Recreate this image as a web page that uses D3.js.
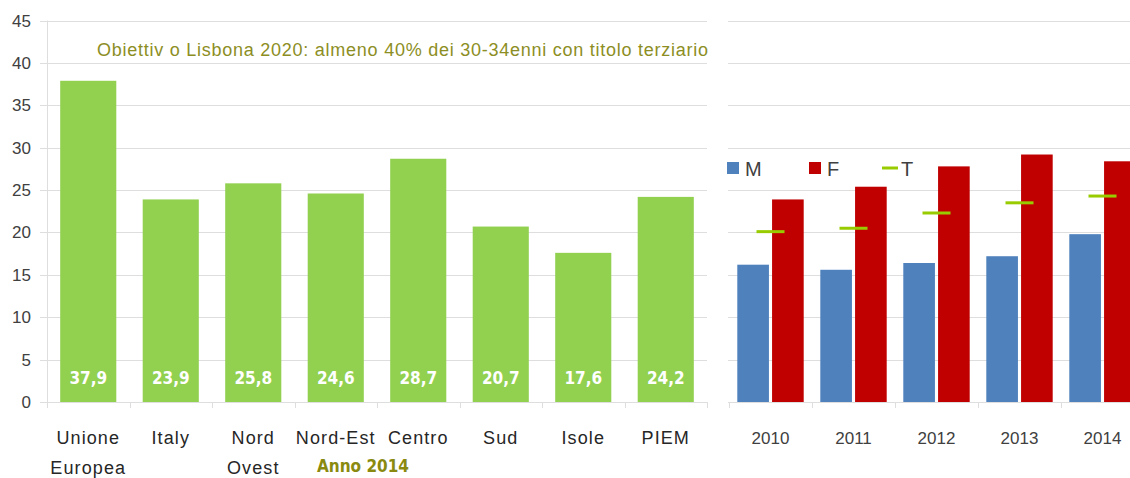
<!DOCTYPE html>
<html>
<head>
<meta charset="utf-8">
<script src="https://cdn.jsdelivr.net/npm/d3@7"></script>
<style>
    body { margin: 0; background: #fff; }
    svg { display: block; font-family: "Liberation Sans", Arial, sans-serif; }
</style>
</head>
<body>
<div id="chart"></div>
<script>
var width = 1130
var height = 478

// left panel: anno 2014
var regions = ['Unione Europea', 'Italy', 'Nord Ovest', 'Nord-Est', 'Centro', 'Sud', 'Isole', 'PIEM']
var regionLabels = [['Unione', 'Europea'], ['Italy'], ['Nord', 'Ovest'], ['Nord-Est'], ['Centro'], ['Sud'], ['Isole'], ['PIEM']]
var regionValues = [37.9, 23.9, 25.8, 24.6, 28.7, 20.7, 17.6, 24.2]

// right panel: PIEM by sex
var years = ['2010', '2011', '2012', '2013', '2014']
var maleValues = [16.2, 15.6, 16.4, 17.2, 19.8]
var femaleValues = [23.9, 25.4, 27.8, 29.2, 28.4]
var totalValues = [20.1, 20.5, 22.3, 23.5, 24.3]

var yTicks = [0, 5, 10, 15, 20, 25, 30, 35, 40, 45]

var svg = d3.select('#chart').append('svg')
    .attr('width', width)
    .attr('height', height)

var y = d3.scaleLinear().domain([0, 45]).range([402, 20.6])

var xLeft = d3.scaleBand().domain(regions).range([47, 707])
    .paddingInner(0.32).paddingOuter(0.16)

var xRight = d3.scaleBand().domain(years).range([729, 1144])
    .paddingInner(0.2).paddingOuter(0.1)

var xSex = d3.scaleBand().domain(['M', 'F']).range([0, xRight.bandwidth()])
    .paddingInner(0.09)

// gridlines
var grid = svg.append('g').attr('stroke', '#dedede').attr('stroke-width', 1)
grid.selectAll('.gl').data(yTicks).enter().append('line')
    .attr('x1', 40).attr('x2', 707)
    .attr('y1', function(d) { return Math.round(y(d)) + 0.5 })
    .attr('y2', function(d) { return Math.round(y(d)) + 0.5 })
grid.selectAll('.gr').data(yTicks).enter().append('line')
    .attr('x1', 728).attr('x2', width)
    .attr('y1', function(d) { return Math.round(y(d)) + 0.5 })
    .attr('y2', function(d) { return Math.round(y(d)) + 0.5 })
grid.append('line')
    .attr('x1', 47.5).attr('x2', 47.5)
    .attr('y1', y(45)).attr('y2', 408)

// category tick marks on baseline
var leftEdges = d3.range(regions.length + 1).map(function(i) { return 47 + i * xLeft.step() })
grid.selectAll('.tl').data(leftEdges).enter().append('line')
    .attr('x1', function(d) { return Math.round(d) + 0.5 })
    .attr('x2', function(d) { return Math.round(d) + 0.5 })
    .attr('y1', 402).attr('y2', 408)
var rightEdges = d3.range(years.length).map(function(i) { return 729 + i * xRight.step() })
grid.selectAll('.tr').data(rightEdges).enter().append('line')
    .attr('x1', function(d) { return Math.round(d) + 0.5 })
    .attr('x2', function(d) { return Math.round(d) + 0.5 })
    .attr('y1', 402).attr('y2', 408)

// y labels
svg.append('g').selectAll('text').data(yTicks).enter().append('text')
    .attr('x', 31)
    .attr('y', function(d) { return y(d) })
    .attr('dy', '0.35em')
    .attr('text-anchor', 'end')
    .style('font-size', '17px')
    .style('fill', '#404040')
    .text(function(d) { return d })

// left bars
svg.append('g').selectAll('rect').data(regionValues).enter().append('rect')
    .attr('x', function(d, i) { return xLeft(regions[i]) })
    .attr('y', function(d) { return y(d) })
    .attr('width', xLeft.bandwidth())
    .attr('height', function(d) { return y(0) - y(d) })
    .attr('fill', '#92D050')

svg.append('g').selectAll('text').data(regionValues).enter().append('text')
    .attr('x', function(d, i) { return xLeft(regions[i]) + xLeft.bandwidth() / 2 })
    .attr('y', 384)
    .attr('text-anchor', 'middle')
    .style('font-family', '"DejaVu Sans Condensed", "Liberation Sans Narrow", sans-serif')
    .style('font-weight', 'bold')
    .style('font-size', '17px')
    .style('fill', '#fff')
    .text(function(d) { return d3.format('.1f')(d).replace('.', ',') })

// left category labels
var catG = svg.append('g').selectAll('text').data(regionLabels).enter().append('text')
    .attr('text-anchor', 'middle')
    .style('font-size', '18px')
    .style('letter-spacing', '1.1px')
    .style('fill', '#262626')
catG.selectAll('tspan').data(function(d, i) {
        return d.map(function(s) { return { s: s, cat: regions[i] } }) })
    .enter().append('tspan')
    .attr('x', function(d) { return xLeft(d.cat) + xLeft.bandwidth() / 2 })
    .attr('y', function(d, j) { return 444 + j * 30 })
    .text(function(d) { return d.s })

svg.append('text')
    .attr('x', 363).attr('y', 472)
    .attr('text-anchor', 'middle')
    .style('font-family', '"DejaVu Sans Condensed", "Liberation Sans Narrow", sans-serif')
    .style('font-weight', 'bold')
    .style('font-size', '17px')
    .style('fill', '#8a8a10')
    .text('Anno 2014')

svg.append('text')
    .attr('x', 97).attr('y', 56)
    .attr('textLength', 611)
    .attr('lengthAdjust', 'spacing')
    .style('font-size', '18px')
    .style('fill', '#8c8e24')
    .text('Obiettiv o Lisbona 2020: almeno 40% dei 30-34enni con titolo terziario')

// right bars
var groups = svg.append('g').selectAll('g').data(years).enter().append('g')
    .attr('transform', function(d) { return 'translate(' + xRight(d) + ',0)' })

groups.append('rect')
    .attr('x', xSex('M'))
    .attr('y', function(d, i) { return y(maleValues[i]) })
    .attr('width', xSex.bandwidth())
    .attr('height', function(d, i) { return y(0) - y(maleValues[i]) })
    .attr('fill', '#4F81BD')

groups.append('rect')
    .attr('x', xSex('F'))
    .attr('y', function(d, i) { return y(femaleValues[i]) })
    .attr('width', xSex.bandwidth())
    .attr('height', function(d, i) { return y(0) - y(femaleValues[i]) })
    .attr('fill', '#C00000')

groups.append('line')
    .attr('x1', xRight.bandwidth() / 2 - 14)
    .attr('x2', xRight.bandwidth() / 2 + 14)
    .attr('y1', function(d, i) { return y(totalValues[i]) })
    .attr('y2', function(d, i) { return y(totalValues[i]) })
    .attr('stroke', '#99CC00')
    .attr('stroke-width', 3)

svg.append('g').selectAll('text').data(years).enter().append('text')
    .attr('x', function(d) { return xRight(d) + xRight.bandwidth() / 2 })
    .attr('y', 444)
    .attr('text-anchor', 'middle')
    .style('font-size', '17px')
    .style('fill', '#404040')
    .text(function(d) { return d })

// legend
var legend = svg.append('g')
legend.append('rect').attr('x', 727).attr('y', 162).attr('width', 12).attr('height', 12).attr('fill', '#4F81BD')
legend.append('text').attr('x', 745).attr('y', 176).style('font-size', '20px').style('fill', '#404040').text('M')
legend.append('rect').attr('x', 809).attr('y', 162).attr('width', 12).attr('height', 12).attr('fill', '#C00000')
legend.append('text').attr('x', 827).attr('y', 176).style('font-size', '20px').style('fill', '#404040').text('F')
legend.append('line').attr('x1', 882).attr('x2', 898).attr('y1', 168).attr('y2', 168)
    .attr('stroke', '#99CC00').attr('stroke-width', 3)
legend.append('text').attr('x', 901).attr('y', 176).style('font-size', '20px').style('fill', '#404040').text('T')
</script>
</body>
</html>
